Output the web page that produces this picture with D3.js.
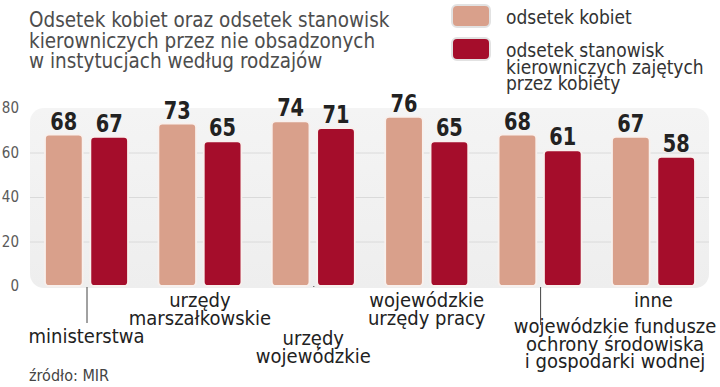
<!DOCTYPE html>
<html>
<head>
<meta charset="utf-8">
<script src="https://cdn.jsdelivr.net/npm/d3@7"></script>
<style>
  body { margin: 0; background: #fff; }
  svg { display: block; }
  text { font-family: "DejaVu Sans Condensed", "DejaVu Sans", sans-serif; }
</style>
</head>
<body>
<div id="chart"></div>
<script>
// dane
var categories = [
  ['ministerstwa'],
  ['urzędy', 'marszałkowskie'],
  ['urzędy', 'wojewódzkie'],
  ['wojewódzkie', 'urzędy pracy'],
  ['wojewódzkie fundusze', 'ochrony środowiska', 'i gospodarki wodnej'],
  ['inne']
]
var womenShare = [68, 73, 74, 76, 68, 67]
var managerShare = [67, 65, 71, 65, 61, 58]
var yTicks = [0, 20, 40, 60, 80]
var seriesNames = [['odsetek kobiet'], ['odsetek stanowisk', 'kierowniczych zajętych', 'przez kobiety']]
var titleLines = [
  'Odsetek kobiet oraz odsetek stanowisk',
  'kierowniczych przez nie obsadzonych',
  'w instytucjach według rodzajów'
]
var source = 'źródło: MIR'

// ułożenie podpisów kategorii: długość kreski, linia bazowa, przesunięcie w x
var labelLayout = [
  { lead: 37, base: 57, dx: 0 },
  { lead: 0, base: 21, dx: 0 },
  { lead: 39, base: 59, dx: 0 },
  { lead: 0, base: 21, dx: 0 },
  { lead: 17, base: 47, dx: 75 },
  { lead: 0, base: 21, dx: 0 }
]

var colors = ['#d9a08b', '#a50d2b']

/**
 * stałe
 */
var width = 720
var height = 387

// zwężanie tekstu
function squeeze(sel, k) {
  sel.each(function () {
    var len = this.getComputedTextLength()
    d3.select(this)
      .attr('textLength', len * k)
      .attr('lengthAdjust', 'spacingAndGlyphs')
  })
}

var svg = d3.select('#chart')
  .append('svg')
  .attr('width', width)
  .attr('height', height)

/**
 * skale
 */
var x0 = d3.scaleBand()
  .domain(d3.range(categories.length))
  .range([45, 695])
  .paddingInner(0.268)

var x1 = d3.scaleBand()
  .domain([0, 1])
  .range([0, x0.bandwidth()])
  .paddingInner(0.17)

var y = d3.scaleLinear()
  .domain([0, 80])
  .range([286, 108])

// tło wykresu
var grad = svg.append('defs')
  .append('linearGradient')
  .attr('id', 'bg')
  .attr('x1', 0).attr('x2', 0).attr('y1', 0).attr('y2', 1)
grad.append('stop').attr('offset', 0).attr('stop-color', '#f4f4f4')
grad.append('stop').attr('offset', 1).attr('stop-color', '#eeeeee')

svg.append('rect')
  .attr('x', 30)
  .attr('y', y(80))
  .attr('width', 679)
  .attr('height', y(0) - y(80) + 2)
  .attr('rx', 14)
  .attr('fill', 'url(#bg)')

// siatka
svg.append('g')
  .selectAll('line')
  .data(yTicks.filter(d => d > 0 && d < 80))
  .enter()
  .append('line')
  .attr('x1', 30)
  .attr('x2', 709)
  .attr('y1', d => y(d) + 0.5)
  .attr('y2', d => y(d) + 0.5)
  .attr('stroke', '#dadada')

// oś y
var yAxis = svg.append('g')
  .attr('transform', 'translate(19,0)')
  .call(d3.axisLeft(y).tickValues(yTicks).tickSize(0).tickPadding(0))
yAxis.select('.domain').remove()
yAxis.selectAll('text')
  .attr('font-size', '15px')
  .attr('fill', '#5a5a5a')
  .style('font-family', '"DejaVu Sans Condensed", sans-serif')

/**
 * słupki
 */
var groups = svg.selectAll('g.grp')
  .data(categories.map((c, i) => ({ i: i, values: [womenShare[i], managerShare[i]] })))
  .enter()
  .append('g')
  .attr('class', 'grp')
  .attr('transform', d => `translate(${x0(d.i)},0)`)

groups.selectAll('rect')
  .data(d => d.values)
  .enter()
  .append('rect')
  .attr('x', (v, j) => x1(j))
  .attr('y', v => y(v))
  .attr('width', x1.bandwidth())
  .attr('height', v => y(0) - y(v))
  .attr('rx', 4)
  .attr('fill', (v, j) => colors[j])
  .attr('stroke', '#f8f0ed')
  .attr('stroke-width', 1.8)

groups.selectAll('text.val')
  .data(d => d.values)
  .enter()
  .append('text')
  .attr('class', 'val')
  .text(v => v)
  .attr('x', (v, j) => x1(j) + x1.bandwidth() / 2)
  .attr('y', v => y(v) - 5)
  .attr('text-anchor', 'middle')
  .attr('font-size', '25px')
  .attr('font-weight', 'bold')
  .attr('fill', '#222')
  .call(squeeze, 0.86)

/**
 * podpisy kategorii
 */
var catLabels = svg.selectAll('g.cat')
  .data(categories)
  .enter()
  .append('g')
  .attr('class', 'cat')
  .attr('transform', (c, i) => `translate(${x0(i) + x0.bandwidth() / 2},${y(0)})`)

catLabels.filter((c, i) => labelLayout[i].lead > 0)
  .append('line')
  .attr('x1', 0.5)
  .attr('x2', 0.5)
  .attr('y1', 1)
  .attr('y2', (c, i) => labelLayout[i].lead)
  .attr('stroke', '#444')

catLabels.each(function (c, i) {
  var lay = labelLayout[i]
  d3.select(this).selectAll('text')
    .data(c)
    .enter()
    .append('text')
    .text(t => t)
    .attr('x', lay.dx)
    .attr('y', (t, k) => lay.base + k * 17.5)
    .attr('text-anchor', 'middle')
    .attr('font-size', '20px')
    .attr('fill', '#222')
})

/**
 * tytuł
 */
svg.append('g')
  .selectAll('text')
  .data(titleLines)
  .enter()
  .append('text')
  .text(t => t)
  .attr('x', 29)
  .attr('y', (t, k) => 27 + k * 20.5)
  .attr('font-size', '22px')
  .attr('fill', '#4d4d4d')
  .call(squeeze, 0.93)

/**
 * legenda
 */
var legend = svg.selectAll('g.leg')
  .data(seriesNames)
  .enter()
  .append('g')
  .attr('class', 'leg')
  .attr('transform', (s, j) => `translate(452,${5 + j * 33})`)

legend.append('rect')
  .attr('width', 38)
  .attr('height', 22)
  .attr('rx', 5)
  .attr('fill', (s, j) => colors[j])
  .attr('stroke', '#e2e2e2')
  .attr('stroke-width', 2)

legend.each(function (s) {
  d3.select(this).selectAll('text')
    .data(s)
    .enter()
    .append('text')
    .text(t => t)
    .attr('x', 54)
    .attr('y', (t, k) => 19 + k * 16.5)
    .attr('font-size', '19px')
    .attr('fill', '#333')
})

// źródło
svg.append('text')
  .text(source)
  .attr('x', 29)
  .attr('y', 381)
  .attr('font-size', '16px')
  .attr('fill', '#444')
</script>
</body>
</html>
